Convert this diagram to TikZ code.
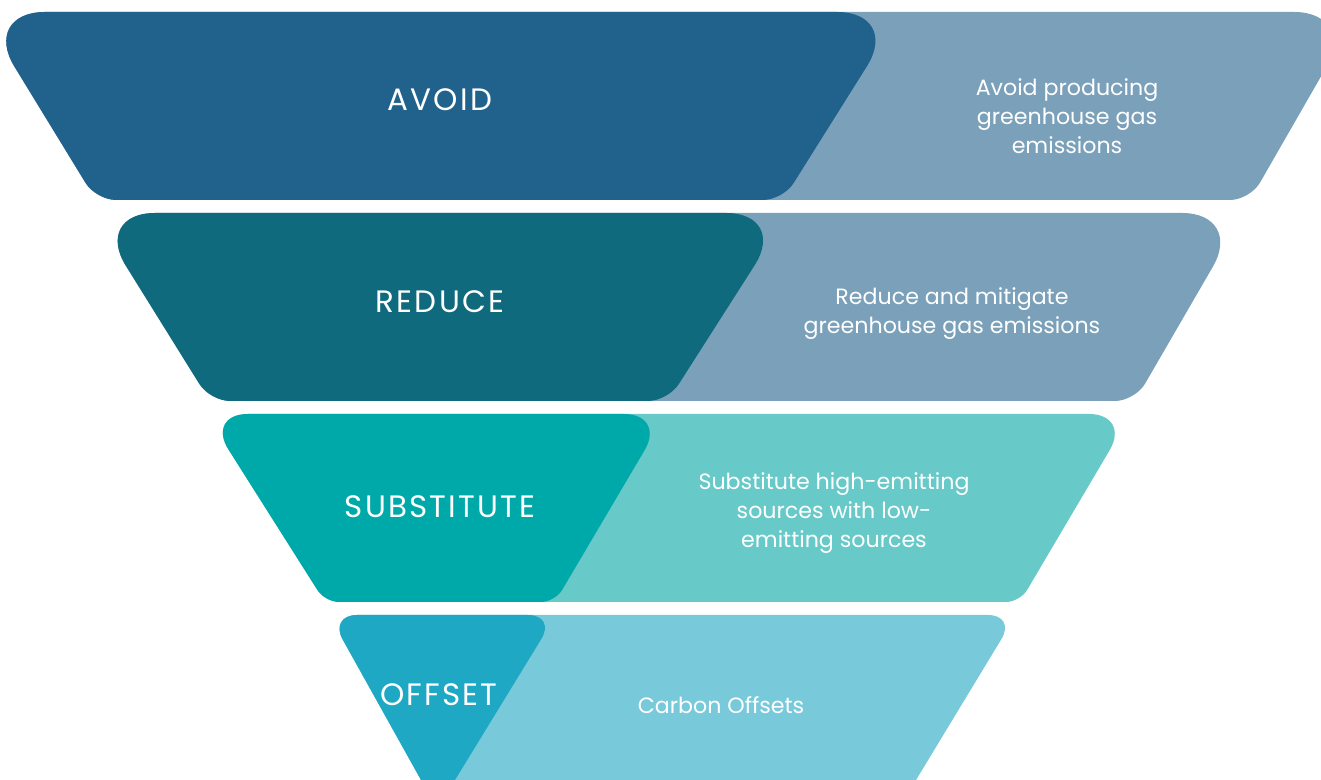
\documentclass[tikz,border=0pt]{standalone}
\usepackage{fontspec}
\setmainfont{Poppins}
\newfontfamily\spacedfont[LetterSpace=7]{Poppins}
\definecolor{avoiddark}{RGB}{33,98,140}
\definecolor{upperlight}{RGB}{122,160,186}
\definecolor{reducedark}{RGB}{15,106,126}
\definecolor{subdark}{RGB}{0,169,169}
\definecolor{sublight}{RGB}{103,201,200}
\definecolor{offdark}{RGB}{30,168,196}
\definecolor{offlight}{RGB}{120,201,218}

\begin{document}
\begin{tikzpicture}[x=0.01cm, y=-0.01cm, acute/.style={rounded corners=#1}, obtuse/.style={rounded corners=#1}, every node/.style={text=white, inner sep=0pt}, title/.style={font=\spacedfont\fontsize{8.8}{10}\selectfont}, desc/.style={align=center, font=\fontsize{6.3}{8.25}\selectfont}]
			\useasboundingbox (0,0) rectangle (1321,780);
			\fill[white] (0,0) rectangle (1321,780);
			\clip (0,0) rectangle (1321,780);
			
			\fill[upperlight] (600,12) [acute=6.4mm] -- (1358,12) [obtuse=2mm] -- (1250,200) -- (96,200) [acute=6.4mm] -- (-19,12) -- cycle;
			\fill[avoiddark] (400,12) [acute=6.4mm] -- (901,12) [obtuse=2mm] -- (783,200) -- (96,200) [acute=6.4mm] -- (-19,12) -- cycle;
			
			\fill[upperlight] (600,213) [acute=6.2mm] -- (1244,213) [obtuse=2mm] -- (1135,401) -- (210,401) [acute=6.2mm] -- (93,213) -- cycle;
			\fill[reducedark] (400,213) [acute=6.2mm] -- (788,213) [obtuse=2mm] -- (668,401) -- (210,401) [acute=6.2mm] -- (93,213) -- cycle;
			
			\fill[sublight] (600,414) [acute=4.2mm] -- (1131,414) [obtuse=1.4mm] -- (1020,602) -- (325,602) [acute=4.2mm] -- (206,414) -- cycle;
			\fill[subdark] (400,414) [acute=4.2mm] -- (666,414) [obtuse=1.4mm] -- (555,602) -- (325,602) [acute=4.2mm] -- (206,414) -- cycle;
			
			\fill[offlight] (600,615) [acute=2.8mm] -- (1016,615) [sharp corners] -- (916,780) -- (421,780) [acute=2.8mm] -- (329,615) -- cycle;
			\fill[offdark] (440,615) [acute=2.8mm] -- (556,615) [sharp corners] -- (455,780) -- (421,780) [acute=2.8mm] -- (329,615) -- cycle;
			
			\node[title] (avoid) at (440,100) {AVOID};
			\node[title] (reduce) at (440,302) {REDUCE};
			\node[title] (substitute) at (440,507) {SUBSTITUTE};
			\node[title] (offset) at (439,695) {OFFSET};
			
			\node[desc] (avoidtext) at (1067,116) {Avoid producing\\greenhouse gas\\emissions};
			\node[desc] (reducetext) at (952,314) {Reduce and mitigate\\greenhouse gas emissions};
			\node[desc] (subtext) at (834,513) {Substitute high-emitting\\sources with low-\\emitting sources};
			\node[desc] (offtext) at (721,705) {Carbon Offsets};
\end{tikzpicture}
\end{document}
